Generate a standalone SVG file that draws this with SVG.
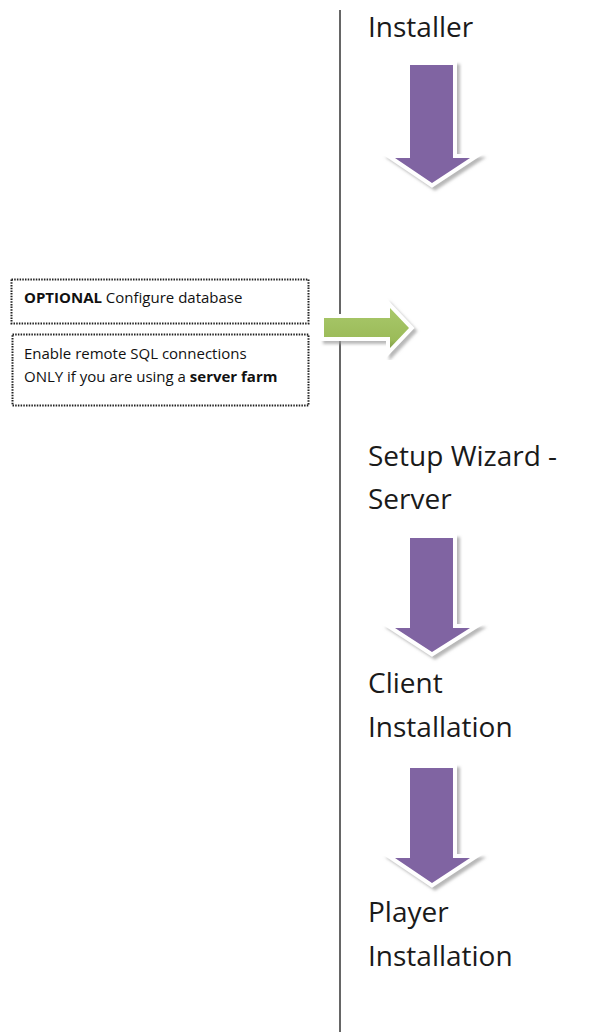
<svg xmlns="http://www.w3.org/2000/svg" width="600" height="1032" viewBox="0 0 600 1032">
<style>
.big{font-family:"Open Sans","Liberation Sans",sans-serif;font-size:28px;fill:#1a1a1a}
.small{font-family:"Open Sans","Liberation Sans",sans-serif;font-size:15px;fill:#111}
.box{fill:#fff;stroke:#222;stroke-width:2;stroke-dasharray:1.5 1.2}
.parrow{fill:#8064A2}
.outline{fill:#fff;stroke:#fff;stroke-width:8;stroke-linejoin:miter;filter:url(#sh)}
</style>
<defs>
<filter id="sh" x="-30%" y="-30%" width="160%" height="160%">
<feDropShadow dx="3" dy="3" stdDeviation="1.5" flood-color="#999" flood-opacity="0.7"/>
</filter>
<linearGradient id="gg" x1="0" y1="0" x2="0" y2="1">
<stop offset="0" stop-color="#a9c86a"/>
<stop offset="0.8" stop-color="#9BBB59"/>
<stop offset="1" stop-color="#7f9a45"/>
</linearGradient>
</defs>
<rect width="600" height="1032" fill="#fff"/>
<g id="connectors">
<line x1="340" y1="10" x2="340" y2="1032" stroke="#333" stroke-width="1.5"/>
<g id="arrow1">
<polygon class="outline" points="410,65 453,65 453,158 470,158 432,183 395,158 410,158"/>
<polygon class="parrow" points="410,65 453,65 453,158 470,158 432,183 395,158 410,158"/>
</g>
<g id="arrow2">
<polygon class="outline" points="410,538 453,538 453,628 470,628 432,652 395,628 410,628"/>
<polygon class="parrow" points="410,538 453,538 453,628 470,628 432,652 395,628 410,628"/>
</g>
<g id="arrow3">
<polygon class="outline" points="410,768 453,768 453,858 470,858 432,883 395,858 410,858"/>
<polygon class="parrow" points="410,768 453,768 453,858 470,858 432,883 395,858 410,858"/>
</g>
<g id="arrowGreen">
<polygon class="outline" points="324,318 390,318 390,308 409,328 390,348 390,337 324,337"/>
<polygon fill="url(#gg)" points="324,318 390,318 390,308 409,328 390,348 390,337 324,337"/>
</g>
</g>
<g id="installer"><text class="big" x="368" y="37">Installer</text></g>
<g id="setup"><text class="big" x="368" y="466">Setup Wizard -</text><text class="big" x="368" y="509">Server</text></g>
<g id="client"><text class="big" x="368" y="693">Client</text><text class="big" x="368" y="737">Installation</text></g>
<g id="player"><text class="big" x="368" y="922">Player</text><text class="big" x="368" y="966">Installation</text></g>
<g id="optional">
<rect class="box" x="11.5" y="279.5" width="297" height="44"/>
<text class="small" x="24" y="303"><tspan font-weight="bold">OPTIONAL</tspan> Configure database</text>
</g>
<g id="remote">
<rect class="box" x="12.5" y="334.5" width="296" height="71"/>
<text class="small" x="24" y="359">Enable remote SQL connections</text>
<text class="small" x="24" y="382">ONLY if you are using a <tspan font-weight="bold">server farm</tspan></text>
</g>
</svg>
